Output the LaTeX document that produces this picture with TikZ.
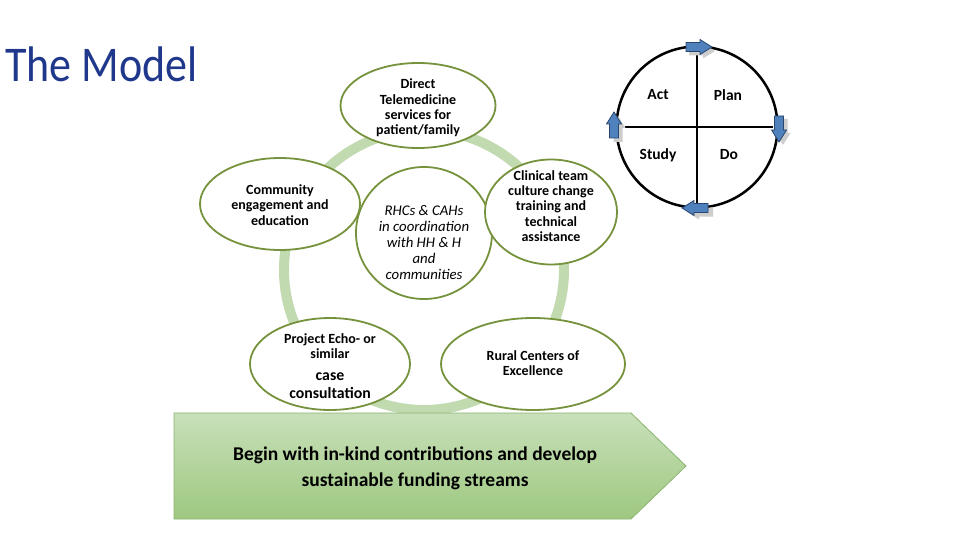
\documentclass[tikz,border=0pt]{standalone}
\usepackage{fontspec}
\setmainfont{Carlito}
\newfontfamily\titlefont[FakeStretch=0.88]{Carlito}
\usetikzlibrary{shapes.geometric}
\definecolor{ringgreen}{RGB}{194,218,176}
\definecolor{edgegreen}{RGB}{118,146,60}
\definecolor{titleblue}{RGB}{31,56,140}
\definecolor{arrowblue}{RGB}{79,129,189}
\definecolor{arrowedge}{RGB}{40,70,110}
\definecolor{shadowgray}{RGB}{205,205,205}
\definecolor{boxtop}{RGB}{200,224,186}
\definecolor{boxbot}{RGB}{158,200,128}
\definecolor{boxedge}{RGB}{140,180,110}
\tikzset{
  oval/.style={ellipse, draw=edgegreen, line width=1.8pt, fill=white, inner sep=0pt},
  ovaltext/.style={align=center, inner sep=0pt, font=\bfseries\fontsize{14}{15.3}\selectfont},
  pdcalabel/.style={font=\bfseries\fontsize{15.5}{17}\selectfont},
  pics/blockarr/.style={code={
    \draw[#1] (-11,-4.5) -- (3,-4.5) -- (3,-7.5) -- (15,0) -- (3,7.5) -- (3,4.5) -- (-11,4.5) -- cycle;
  }},
  arrmain/.style={draw=arrowedge, fill=arrowblue, line width=0.8pt},
  arrshadow/.style={fill=shadowgray, draw=none}
}
\begin{document}
\begin{tikzpicture}[x=1pt,y=-1pt]
\useasboundingbox[fill=white] (0,0) rectangle (960,540);
% title
\node[anchor=base west, inner sep=0pt, text=titleblue, font=\titlefont\fontsize{50}{56}\selectfont] (title) at (5,82) {The Model};
% ring
\draw[ringgreen, line width=10pt] (424,270) circle[radius=140];
% ovals
\node[oval, minimum width=155pt, minimum height=85pt] (direct) at (418,105.5) {};
\node[ovaltext] (directt) at (418,108) {Direct\\Telemedicine\\services for\\patient/family};
\node[oval, minimum width=160pt, minimum height=92pt] (comm) at (280,204) {};
\node[ovaltext] (commt) at (280,205) {Community\\engagement and\\education};
\node[oval, minimum width=136pt, minimum height=132pt] (rhc) at (424,233) {};
\node[align=center, inner sep=0pt, font=\itshape\fontsize{14.8}{16}\selectfont] (rhct) at (424,243) {RHCs \& CAHs\\in coordination\\with HH \& H\\and\\communities};
\node[oval, minimum width=132pt, minimum height=105pt] (clin) at (551,212) {};
\node[ovaltext] (clint) at (551,206) {Clinical team\\culture change\\training and\\technical\\assistance};
\node[oval, minimum width=160pt, minimum height=92pt] (echo) at (330,364) {};
\node[ovaltext] (echot) at (330,366) {Project Echo- or\\similar\\[6pt]{\fontsize{15.8}{17}\selectfont case}\\[3pt]{\fontsize{15.8}{17}\selectfont consultation}};
\node[oval, minimum width=184pt, minimum height=92pt] (rural) at (533,364) {};
\node[ovaltext] (ruralt) at (533,363) {Rural Centers of\\Excellence};
% funding arrow
\draw[boxedge, line width=0.8pt, top color=boxtop, bottom color=boxbot] (174,413) -- (631,413) -- (686,466) -- (631,519) -- (174,519) -- cycle;
\node[align=center, inner sep=0pt, font=\bfseries\fontsize{19.5}{26}\selectfont] (fund) at (415,468) {Begin with in-kind contributions and develop\\sustainable funding streams};
% PDCA
\coordinate (pc) at (697,127);
\coordinate (ptop) at (697,47);
\coordinate (pbot) at (697,208);
\coordinate (pleft) at (625,127);
\coordinate (pright) at (773,127);
\draw[line width=2.5pt] (pc) circle[radius=80.5];
\draw[line width=2.5pt] (ptop) -- (pbot);
\draw[line width=2.5pt] (pleft) -- (pright);
\node[pdcalabel] (act) at (658,95) {Act};
\node[pdcalabel] (plan) at (728,95) {Plan};
\node[pdcalabel] (study) at (658,155) {Study};
\node[pdcalabel] (do) at (729,155) {Do};
% block arrows with shadows
\pic at (700,51) {blockarr=arrshadow};
\pic at (697,47) {blockarr=arrmain};
\pic[rotate=-90] at (783,130) {blockarr=arrshadow};
\pic[rotate=-90] at (779,127) {blockarr=arrmain};
\pic[rotate=180] at (702,212) {blockarr=arrshadow};
\pic[rotate=180] at (697,208) {blockarr=arrmain};
\pic[rotate=90] at (618,131) {blockarr=arrshadow};
\pic[rotate=90] at (614,127) {blockarr=arrmain};
\end{tikzpicture}
\end{document}
